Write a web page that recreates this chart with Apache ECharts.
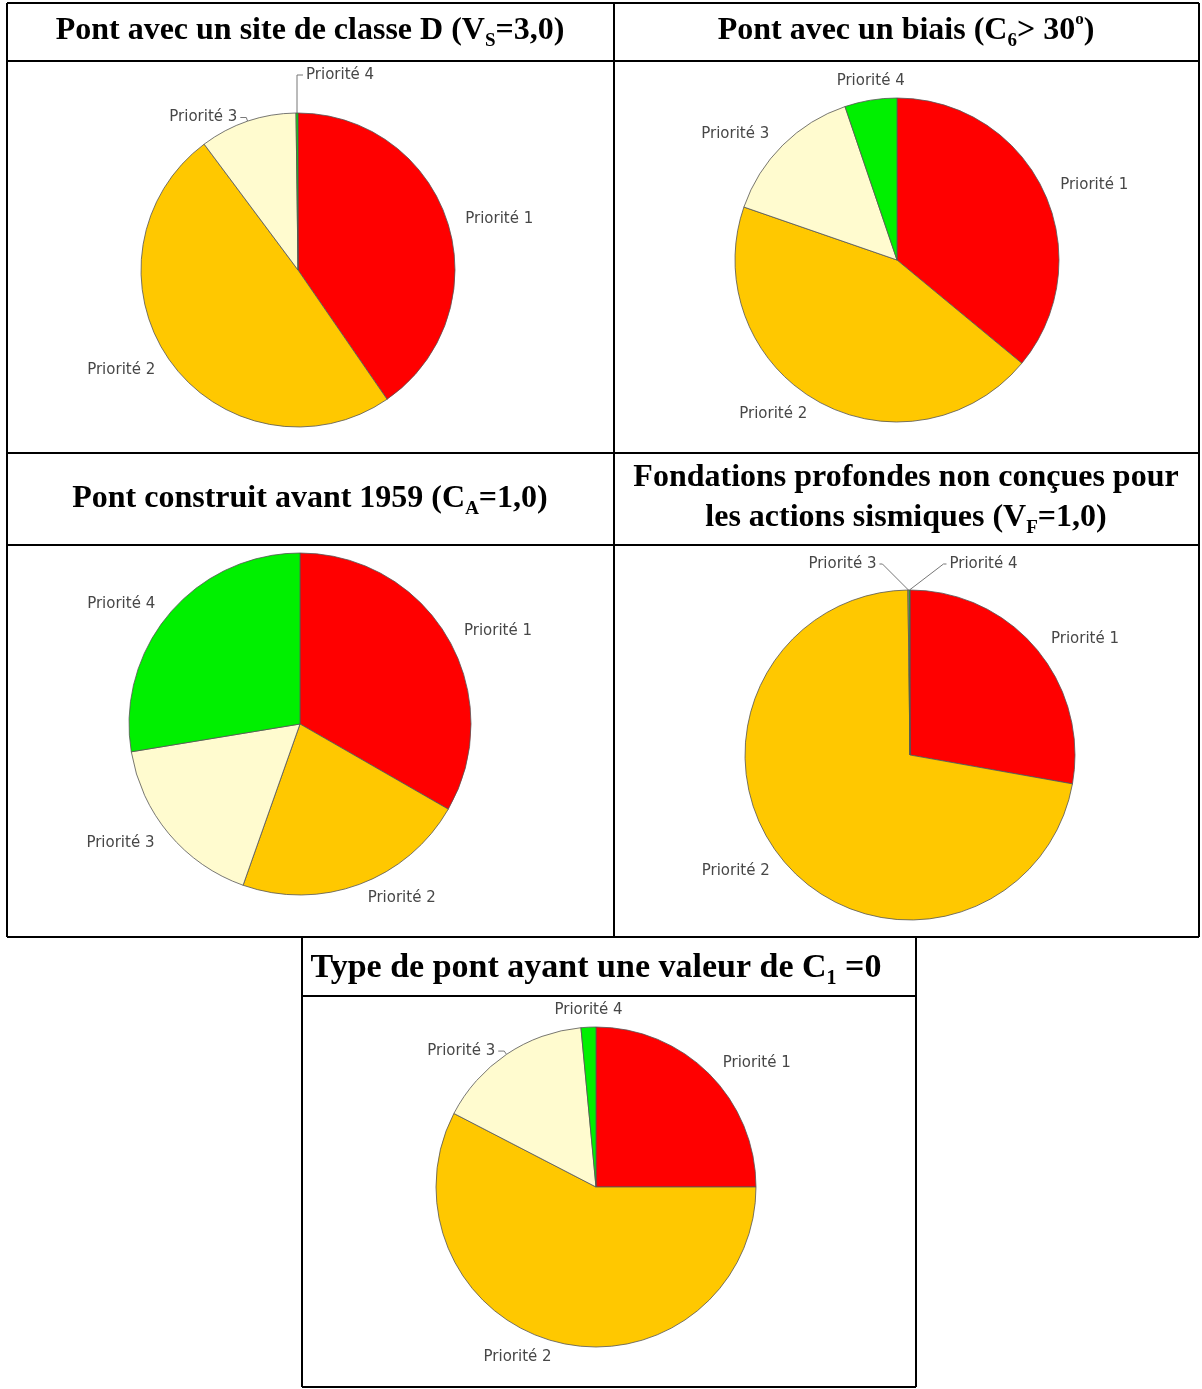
<!DOCTYPE html>
<html>
<head>
<meta charset="utf-8">
<title>Répartition des priorités</title>
<script src="https://cdn.jsdelivr.net/npm/echarts@6/dist/echarts.min.js"></script>
<style>
  html, body { margin: 0; padding: 0; background: #ffffff; }
  #chart { width: 1202px; height: 1389px; }
</style>
</head>
<body>
<div id="chart"></div>
<script>
// Share of bridges (%) in each priority class, for each vulnerability factor
const categories = ['Priorité 1', 'Priorité 2', 'Priorité 3', 'Priorité 4'];
const siteClasseD = [40.4, 49.4, 10.0, 0.2];
const pontBiais = [36.0, 44.3, 14.5, 5.2];
const avant1959 = [33.3, 22.1, 17.0, 27.6];
const fondations = [27.8, 72.0, 0.1, 0.1];
const typeC1 = [25.0, 57.6, 15.9, 1.5];

const colors = ['#ff0000', '#ffc800', '#fffbcf', '#00f000'];

// Cell titles (rich text: m/M = normal, s/S = subscript, u = superscript)
const titles = [
  '{m|Pont avec un site de classe D (V}{s|S}{m|=3,0)}',
  '{m|Pont avec un biais (C}{s|6}{m|> 30}{u|o}{m|)}',
  '{m|Pont construit avant 1959 (C}{s|A}{m|=1,0)}',
  '{m|Fondations profondes non conçues pour}\n{m|les actions sismiques (V}{s|F}{m|=1,0)}',
  '{M|Type de pont ayant une valeur de C}{S|1}{M| =0}'
];

const serif = 'Liberation Serif';
const titleRich = {
  m: { fontFamily: serif, fontWeight: 'bold', fontSize: 32, lineHeight: 40, fill: '#000' },
  s: { fontFamily: serif, fontWeight: 'bold', fontSize: 19, lineHeight: 19, padding: [15, 0, 0, 0], verticalAlign: 'bottom', fill: '#000' },
  u: { fontFamily: serif, fontWeight: 'bold', fontSize: 17, lineHeight: 17, padding: [0, 0, 18, 0], verticalAlign: 'top', fill: '#000' },
  M: { fontFamily: serif, fontWeight: 'bold', fontSize: 34, lineHeight: 42, fill: '#000' },
  S: { fontFamily: serif, fontWeight: 'bold', fontSize: 20, lineHeight: 20, padding: [16, 0, 0, 0], verticalAlign: 'bottom', fill: '#000' }
};

// Table frame
const frameLines = [
  [7, 3, 1199, 3], [7, 61, 1199, 61], [7, 453, 1199, 453], [7, 545, 1199, 545], [7, 937, 1199, 937],
  [7, 3, 7, 937], [614, 3, 614, 937], [1199, 3, 1199, 937],
  [302, 996, 916, 996], [302, 1387, 916, 1387], [302, 937, 302, 1387], [916, 937, 916, 1387]
];

const graphic = frameLines.map(l => ({
  type: 'line', silent: true,
  shape: { x1: l[0], y1: l[1], x2: l[2], y2: l[3] },
  style: { stroke: '#000', lineWidth: 2 }
}));

const titlePos = [[310, 31], [906, 31], [310, 499], [906, 498], [596, 968]];
titles.forEach((t, i) => {
  graphic.push({
    type: 'text', silent: true, x: titlePos[i][0], y: titlePos[i][1],
    style: { text: t, align: 'center', verticalAlign: 'middle', rich: titleRich, fill: '#000' }
  });
});

// Pie placement and leader-line settings per chart
const pies = [
  { values: siteClasseD, center: [298, 270], r: 157,
    leaders: { 2: { length: 4, length2: 6 }, 3: { length: 38, length2: 6, side: 'right' } } },
  { values: pontBiais, center: [897, 260], r: 162,
    leaders: { 3: { length: 0, length2: 0, side: 'top', lift: 19, hidden: true } } },
  { values: avant1959, center: [300, 724], r: 171, leaders: {} },
  { values: fondations, center: [910, 755], r: 165,
    leaders: { 2: { length: 26, length2: 26, side: 'left', diag: true }, 3: { length: 26, length2: 34, side: 'right', diag: true } } },
  { values: typeC1, center: [596, 1187], r: 160,
    leaders: { 2: { length: 4, length2: 6 }, 3: { length: 0, length2: 0, side: 'top', lift: 17, hidden: true } } }
];

const series = pies.map(p => ({
  type: 'pie',
  center: p.center,
  radius: p.r,
  startAngle: 90,
  clockwise: true,
  avoidLabelOverlap: false,
  silent: true,
  animation: false,
  itemStyle: { borderColor: '#555', borderWidth: 0.8 },
  label: {
    show: true, position: 'outside', formatter: '{b}',
    fontFamily: 'DejaVu Sans', fontSize: 15, color: '#474747', distanceToLabelLine: 3
  },
  labelLine: { show: false, length: 15, length2: 0 },
  data: categories.map((name, i) => {
    const ld = p.leaders[i];
    return {
      name: name,
      value: p.values[i],
      itemStyle: { color: colors[i] },
      labelLine: ld
        ? { show: true, length: ld.length, length2: ld.length2,
            lineStyle: { color: ld.hidden ? 'rgba(0,0,0,0)' : '#777', width: 1 } }
        : { show: false }
    };
  }),
  labelLayout: function (params) {
    const ld = p.leaders[params.dataIndex];
    if (!ld || !ld.side || !params.labelLinePoints) return {};
    const a = params.labelLinePoints[0];
    if (ld.side === 'top') {
      return { x: a[0], y: a[1] - ld.lift, align: 'center', verticalAlign: 'middle',
               labelLinePoints: [a, a, a] };
    }
    const dir = ld.side === 'right' ? 1 : -1;
    let b, c;
    if (ld.diag) {
      b = [a[0] + dir * ld.length2, a[1] - ld.length];
      c = [b[0] + dir * 3, b[1]];
    } else {
      b = [a[0], a[1] - ld.length];
      c = [b[0] + dir * ld.length2, b[1]];
    }
    return {
      x: c[0] + dir * 3, y: c[1],
      align: ld.side === 'right' ? 'left' : 'right', verticalAlign: 'middle',
      labelLinePoints: [a, b, c]
    };
  }
}));

const chart = echarts.init(document.getElementById('chart'), null, { renderer: 'canvas' });
chart.setOption({
  backgroundColor: '#ffffff',
  animation: false,
  graphic: graphic,
  series: series
});
</script>
</body>
</html>
